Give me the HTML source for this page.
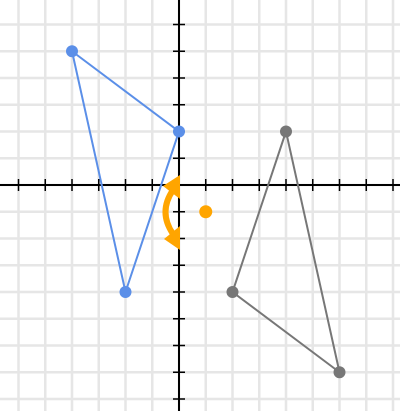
<!DOCTYPE html>
<html><head><meta charset="utf-8"><style>html,body{margin:0;padding:0;background:#fff}svg{display:block}</style></head>
<body>
<svg id="chart" width="400" height="411" viewBox="0 0 400 411" xmlns="http://www.w3.org/2000/svg">
<g id="grid"></g>
<g id="axes"></g>
<g id="shapes"></g>
</svg>
<script>
const blueTriangle = [[-4,5],[0,2],[-2,-4]];
const grayTriangle = [[4,2],[2,-4],[6,-7]];
const center = [1,-1];
const xTicks = [-6,-5,-4,-3,-2,-1,1,2,3,4,5,6,7,8];
const yTicks = [6,5,4,3,2,1,-1,-2,-3,-4,-5,-6,-7,-8];

const U = 26.75, OX = 179, OY = 185;
const sx = v => OX + v*U;
const sy = v => OY - v*U;
const NS = 'http://www.w3.org/2000/svg';
function mk(parent, tag, attrs){const e=document.createElementNS(NS,tag);for(const k in attrs)e.setAttribute(k,attrs[k]);parent.appendChild(e);return e;}
const grid=document.getElementById('grid'), axes=document.getElementById('axes'), shapes=document.getElementById('shapes');

for(let i=-7;i<=9;i++){
  const l=mk(grid,'line',{x1:sx(i),y1:0,x2:sx(i),y2:411,stroke:'#e6e6e6','stroke-width':2.5});
  
  
}
for(let j=-9;j<=7;j++){
  const l=mk(grid,'line',{x1:0,y1:sy(j),x2:400,y2:sy(j),stroke:'#e6e6e6','stroke-width':2.5});
  
  
}
const xa=mk(axes,'line',{x1:0,y1:OY,x2:400,y2:OY,stroke:'#000','stroke-width':2});


const ya=mk(axes,'line',{x1:OX,y1:0,x2:OX,y2:411,stroke:'#000','stroke-width':2});


xTicks.forEach(t=>{
  const l=mk(axes,'line',{x1:sx(t),y1:OY-6,x2:sx(t),y2:OY+6,stroke:'#000','stroke-width':1.5});
  
  
});
yTicks.forEach(t=>{
  const l=mk(axes,'line',{x1:OX-6,y1:sy(t),x2:OX+6,y2:sy(t),stroke:'#000','stroke-width':1.5});
  
  
});

function tri(pts,color,name){
  const p=mk(shapes,'polygon',{points:pts.map(q=>sx(q[0])+','+sy(q[1])).join(' '),fill:'none',stroke:color,'stroke-width':2});
  
  
  pts.forEach(q=>{
    const c=mk(shapes,'circle',{cx:sx(q[0]),cy:sy(q[1]),r:6,fill:color});
    
    
  });
}
tri(blueTriangle,'#5b8fe8','blue');
tri(grayTriangle,'#777777','gray');

const cd=mk(shapes,'circle',{cx:sx(center[0]),cy:sy(center[1]),r:6.5,fill:'#ffa500'});



const arc=mk(shapes,'path',{d:'M173,190 Q158,212 173,234',fill:'none',stroke:'#ffa500','stroke-width':6});


const h1=mk(shapes,'polygon',{points:'180,175 180,199 163,186',fill:'#ffa500'});


const h2=mk(shapes,'polygon',{points:'180,226 180,250 164,239',fill:'#ffa500'});


</script>
</body></html>
